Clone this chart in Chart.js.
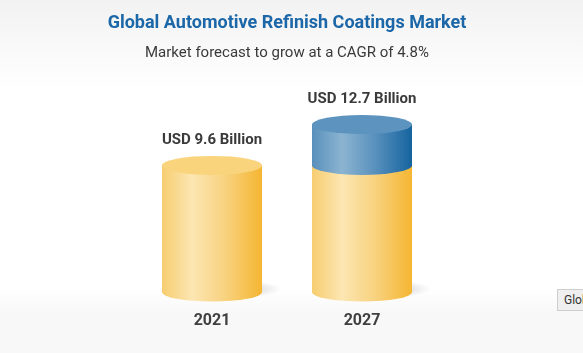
<!DOCTYPE html>
<html>
<head>
<meta charset="utf-8">
<script src="https://cdn.jsdelivr.net/npm/chart.js@4.4.1/dist/chart.umd.min.js"></script>
<style>
  html, body {
    margin: 0;
    padding: 0;
    width: 583px;
    height: 353px;
    overflow: hidden;
    font-family: Roboto, sans-serif;
  }
  body {
    background: linear-gradient(to bottom, #f2f2f2 0px, #ffffff 90px, #ffffff 290px, #f8f8f8 312px, #f8f8f8 353px);
  }
  #wrap {
    position: absolute;
    left: 0;
    top: 0;
    width: 583px;
    height: 353px;
  }
  #tag {
    position: absolute;
    left: 557px;
    top: 289px;
    height: 20px;
    padding: 0 6px;
    background: #efefef;
    border: 1px solid #cfcfcf;
    color: #333;
    font-size: 12px;
    line-height: 20px;
    white-space: nowrap;
  }
</style>
</head>
<body>
<div id="wrap"><canvas id="cylinders" width="583" height="353"></canvas></div>
<div id="tag">Global Automotive Refinish Coatings Market</div>

<script>
const chartTitle = 'Global Automotive Refinish Coatings Market';
const chartSubtitle = 'Market forecast to grow at a CAGR of 4.8%';
const years = ['2021', '2027'];
const baseValues = [9.6, 9.6];
const growthValues = [0, 3.1];
const valueLabels = ['USD 9.6 Billion', 'USD 12.7 Billion'];

const yellowSide = ['#f7cd70', '#fce6b2', '#f8d381', '#f5b632'];
const blueSide = ['#5990bc', '#8cb4d1', '#5b92be', '#15649f'];
const yellowTop = '#f9d47c';
const blueTop = '#5c93bf';
const RY = 9.5;

function sideGradient(ctx, left, right, stops) {
  const g = ctx.createLinearGradient(left, 0, right, 0);
  g.addColorStop(0, stops[0]);
  g.addColorStop(0.3, stops[1]);
  g.addColorStop(0.62, stops[2]);
  g.addColorStop(1, stops[3]);
  return g;
}

function drawSide(ctx, cx, rx, yTop, yBottom, stops) {
  ctx.beginPath();
  ctx.moveTo(cx - rx, yTop);
  ctx.lineTo(cx - rx, yBottom);
  ctx.ellipse(cx, yBottom, rx, RY, 0, Math.PI, 0, true);
  ctx.lineTo(cx + rx, yTop);
  ctx.closePath();
  ctx.fillStyle = sideGradient(ctx, cx - rx, cx + rx, stops);
  ctx.fill();
}

function drawTop(ctx, cx, rx, y, color) {
  ctx.beginPath();
  ctx.ellipse(cx, y, rx, RY, 0, 0, Math.PI * 2);
  ctx.fillStyle = color;
  ctx.fill();
}

// soft floor shadow to the right of each cylinder
function drawShadow(ctx, cx, rx, y) {
  ctx.save();
  ctx.translate(cx + rx * 0.5, y - 3);
  ctx.scale(1, 0.2);
  const r = rx * 0.88;
  const g = ctx.createRadialGradient(0, 0, 0, 0, 0, r);
  g.addColorStop(0, 'rgba(0,0,0,0.2)');
  g.addColorStop(0.6, 'rgba(0,0,0,0.09)');
  g.addColorStop(1, 'rgba(0,0,0,0)');
  ctx.fillStyle = g;
  ctx.beginPath();
  ctx.arc(0, 0, r, 0, Math.PI * 2);
  ctx.fill();
  ctx.restore();
}

const cylinderPlugin = {
  id: 'cylinderPlugin',
  afterDatasetsDraw(chart) {
    const ctx = chart.ctx;
    const area = chart.chartArea;
    const midX = (area.left + area.right) / 2;
    const baseMeta = chart.getDatasetMeta(0);
    const capMeta = chart.getDatasetMeta(1);
    ctx.save();

    // heading
    ctx.textAlign = 'center';
    ctx.textBaseline = 'middle';
    ctx.fillStyle = '#1b67a8';
    ctx.font = 'bold 18px Roboto';
    ctx.fillText(chartTitle, midX, 23);
    ctx.fillStyle = '#3a3a3a';
    ctx.font = '15px Roboto';
    ctx.fillText(chartSubtitle, midX, 53);

    baseMeta.data.forEach((bar, i) => {
      const cx = bar.x;
      const rx = bar.width / 2;
      const bottom = bar.base;
      const baseTop = bar.y;
      const cap = capMeta.data[i];
      const hasCap = growthValues[i] > 0;

      drawShadow(ctx, cx, rx, bottom);
      drawSide(ctx, cx, rx, baseTop, bottom, yellowSide);
      let top = baseTop;
      if (hasCap) {
        drawSide(ctx, cx, rx, cap.y, cap.base, blueSide);
        drawTop(ctx, cx, rx, cap.y, blueTop);
        top = cap.y;
      } else {
        drawTop(ctx, cx, rx, baseTop, yellowTop);
      }

      ctx.fillStyle = '#3a3a3a';
      ctx.font = 'bold 15px Roboto';
      ctx.fillText(valueLabels[i], cx, top - RY - 16);

      ctx.fillStyle = '#404040';
      ctx.font = 'bold 16px Roboto';
      ctx.fillText(years[i], cx, bottom + 29);
    });
    ctx.restore();
  }
};

const ctx = document.getElementById('cylinders').getContext('2d');

new Chart(ctx, {
  type: 'bar',
  data: {
    labels: years,
    datasets: [
      {
        label: 'Base',
        data: baseValues,
        backgroundColor: 'rgba(0,0,0,0)',
        barThickness: 100,
        stack: 'market'
      },
      {
        label: 'Growth',
        data: growthValues,
        backgroundColor: 'rgba(0,0,0,0)',
        barThickness: 100,
        stack: 'market'
      }
    ]
  },
  options: {
    responsive: false,
    animation: false,
    events: [],
    layout: {
      padding: { left: 137, right: 146, top: 81, bottom: 61 }
    },
    scales: {
      x: { display: false, stacked: true },
      y: { display: false, stacked: true, min: 0, max: 16 }
    },
    plugins: {
      legend: { display: false },
      tooltip: { enabled: false }
    }
  },
  plugins: [cylinderPlugin]
});
</script>
</body>
</html>
